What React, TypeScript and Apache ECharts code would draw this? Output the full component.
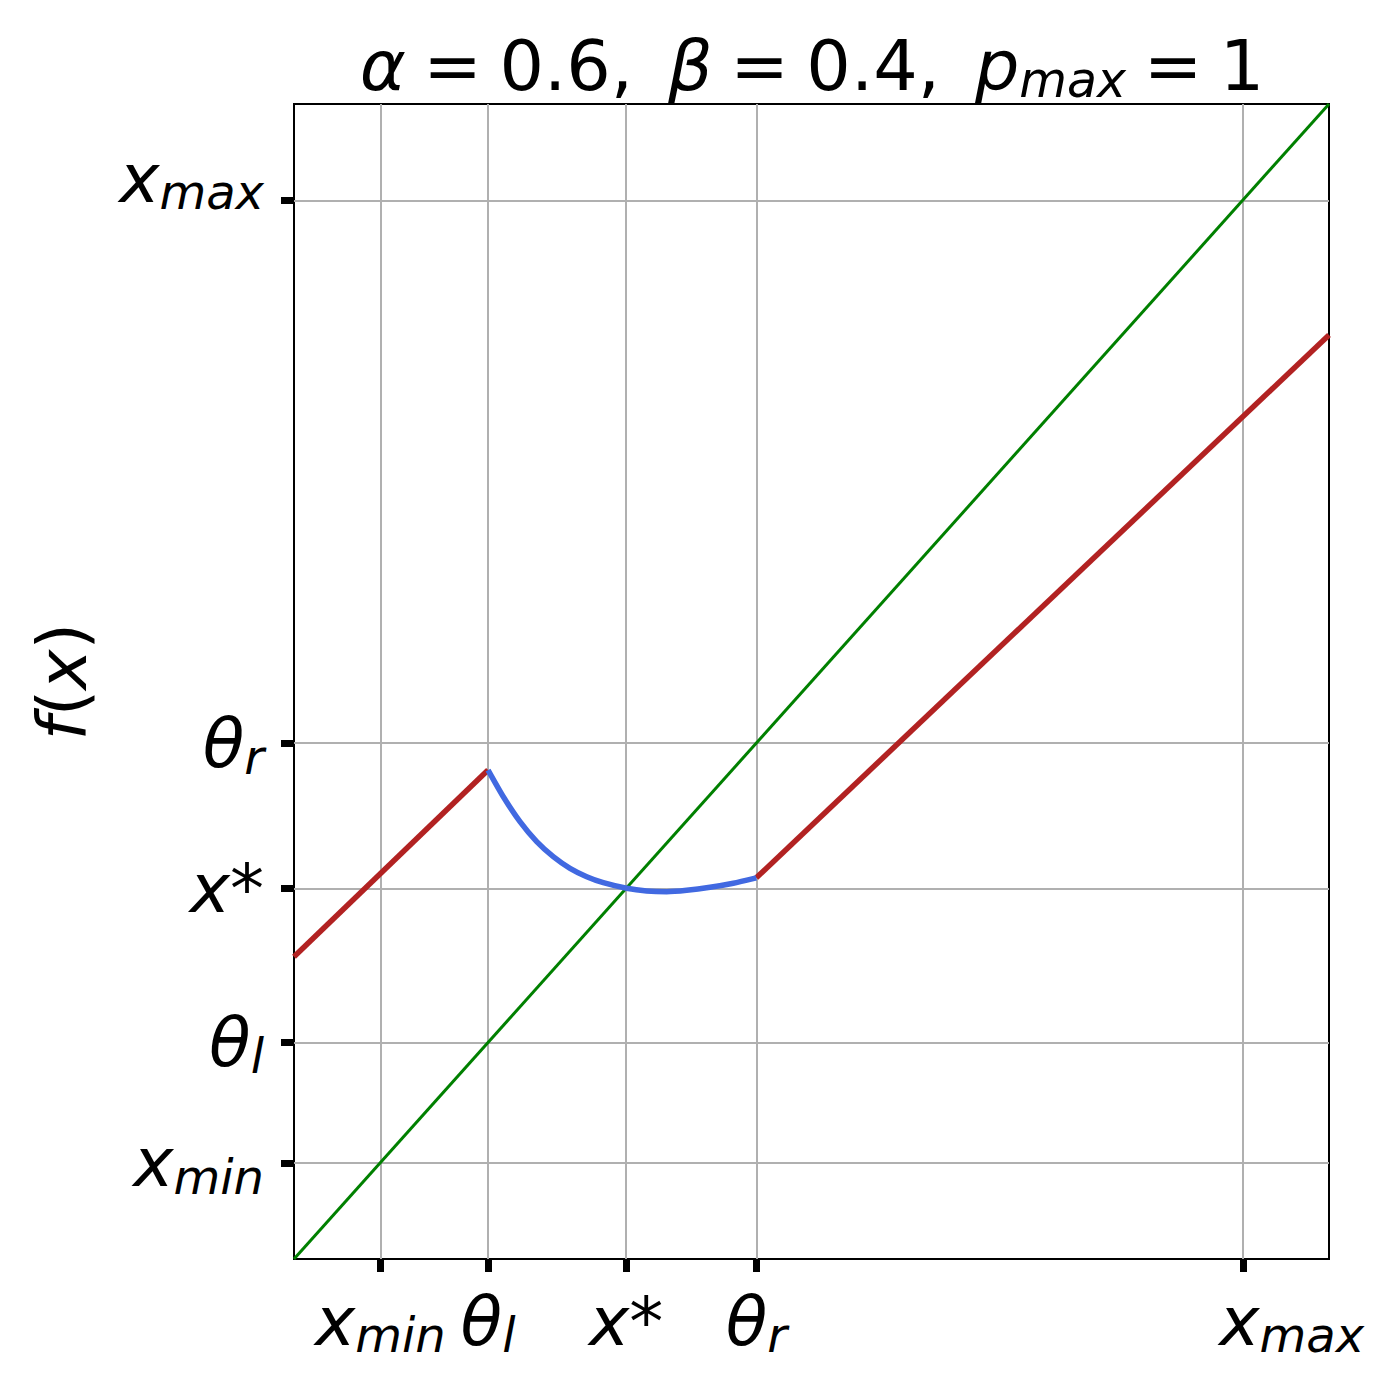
import React, { useEffect, useRef } from "react";
import * as echarts from "echarts";

// tick positions (normalised units: x_min = 0, x_max = 1)
const tickValues = [0, 0.125, 0.285, 0.436, 1];
const xTickLabels = [
  "{i|x}{s|min}",
  "{i|θ}{s|l}",
  "{i|x}{u|*}",
  "{i|θ}{s|r}",
  "{gap| }{i|x}{s|max}",
];
const yTickLabels = [
  "{i|x}{s|min}",
  "{i|θ}{s|l}",
  "{i|x}{u|*}",
  "{i|θ}{s|r}",
  "{i|x}{s|max}\n{sp| }",
];
const axisMin = -0.1;
const axisMax = 1.1;

// identity line y = x
const identityX = [-0.1, 1.1];
const identityY = [-0.1, 1.1];

// red branches
const redLeftX = [-0.1, 0.125];
const redLeftY = [0.214, 0.408];
const redRightX = [0.436, 1.1];
const redRightY = [0.296, 0.86];

// blue curve between theta_l and theta_r
const blueX = [0.125, 0.1427, 0.162, 0.1814, 0.2006, 0.22, 0.2394, 0.2586, 0.2857, 0.3089, 0.3321, 0.3553, 0.3823, 0.4093, 0.436];
const blueY = [0.408, 0.3803, 0.3544, 0.3336, 0.318, 0.3059, 0.2972, 0.291, 0.2852, 0.2824, 0.2816, 0.2831, 0.2862, 0.2904, 0.296];

const FONT = "DejaVu Sans";
const FS = 68;
const SUB = 48;
const LH = 76;
const SLH = 16;

const rich = {
  i: { fontFamily: FONT, fontStyle: "italic", fontSize: FS, color: "#000", lineHeight: LH },
  u: { fontFamily: FONT, fontStyle: "normal", fontSize: FS, color: "#000", lineHeight: LH },
  s: { fontFamily: FONT, fontStyle: "italic", fontSize: SUB, color: "#000", lineHeight: SLH, verticalAlign: "bottom" },
  sp: { fontSize: 2, lineHeight: 44, color: "rgba(0,0,0,0)" },
  gap: { fontSize: 2, lineHeight: LH, width: 98, color: "rgba(0,0,0,0)" },
};

const zip = (xs: number[], ys: number[]) => xs.map((x, k) => [x, ys[k]]);

const nearest = (v: number) => {
  let best = 0;
  for (let k = 1; k < tickValues.length; k++) {
    if (Math.abs(tickValues[k] - v) < Math.abs(tickValues[best] - v)) best = k;
  }
  return best;
};

const SP = "\u2005";

export default function App() {
  const ref = useRef<HTMLDivElement>(null);
  useEffect(() => {
    if (!ref.current) return;
    const chart = echarts.init(ref.current, undefined, { renderer: "svg" });
    const axisCommon = (isX: boolean) => ({
      type: "value",
      min: axisMin,
      max: axisMax,
      axisLine: { show: false, onZero: false },
      axisTick: {
        show: true,
        customValues: tickValues,
        length: 13,
        inside: false,
        lineStyle: { color: "#000", width: 7 },
      },
      axisLabel: {
        show: true,
        customValues: tickValues,
        formatter: (v: number) => (isX ? xTickLabels : yTickLabels)[nearest(v)],
        margin: isX ? 24 : 30,
        rich,
      },
      splitLine: { show: true, lineStyle: { color: "#b0b0b0", width: 2 } },
    });
    chart.setOption({
      animation: false,
      backgroundColor: "#fff",
      grid: {
        left: 294,
        top: 104,
        width: 1035,
        height: 1155,
        show: true,
        borderColor: "#000",
        borderWidth: 2,
        backgroundColor: "transparent",
        containLabel: false,
        outerBoundsMode: "none",
      },
      graphic: [
        {
          type: "text",
          x: 812,
          y: 66,
          z: 10,
          style: {
            text:
              "{g|α}{e|" + SP + "=" + SP + "0.6," + SP + SP + "}{g|β}{e|" + SP + "=" + SP + "0.4," + SP + SP +
              "}{g|p}{s|max}{e|" + SP + "=" + SP + "1}",
            align: "center",
            verticalAlign: "middle",
            rich: {
              g: { fontFamily: FONT, fontStyle: "italic", fontSize: 70, fill: "#000", lineHeight: 78 },
              e: { fontFamily: FONT, fontStyle: "normal", fontSize: 70, fill: "#000", lineHeight: 78 },
              s: { fontFamily: FONT, fontStyle: "italic", fontSize: 49, fill: "#000", lineHeight: 18, verticalAlign: "bottom" },
            },
          },
        },
      ],
      xAxis: { ...axisCommon(true) },
      yAxis: {
        ...axisCommon(false),
        name: "{i|f}{u|(}{i|x}{u|)}",
        nameLocation: "middle",
        nameRotate: 90,
        nameGap: 194,
        nameTextStyle: { rich },
      },
      series: [
        {
          type: "line",
          data: zip(identityX, identityY),
          showSymbol: false,
          lineStyle: { color: "#008000", width: 3 },
          z: 3,
        },
        {
          type: "line",
          data: zip(redLeftX, redLeftY),
          showSymbol: false,
          lineStyle: { color: "#b22222", width: 5.5 },
          z: 4,
        },
        {
          type: "line",
          data: zip(redRightX, redRightY),
          showSymbol: false,
          lineStyle: { color: "#b22222", width: 5.5 },
          z: 4,
        },
        {
          type: "line",
          data: zip(blueX, blueY),
          showSymbol: false,
          smooth: 0.2,
          lineStyle: { color: "#4169e1", width: 5.5 },
          z: 5,
        },
      ],
    });
    return () => chart.dispose();
  }, []);
  return (
    <div
      ref={ref}
      style={{ position: "fixed", left: 0, top: 0, width: 1400, height: 1400, background: "#fff" }}
    />
  );
}
